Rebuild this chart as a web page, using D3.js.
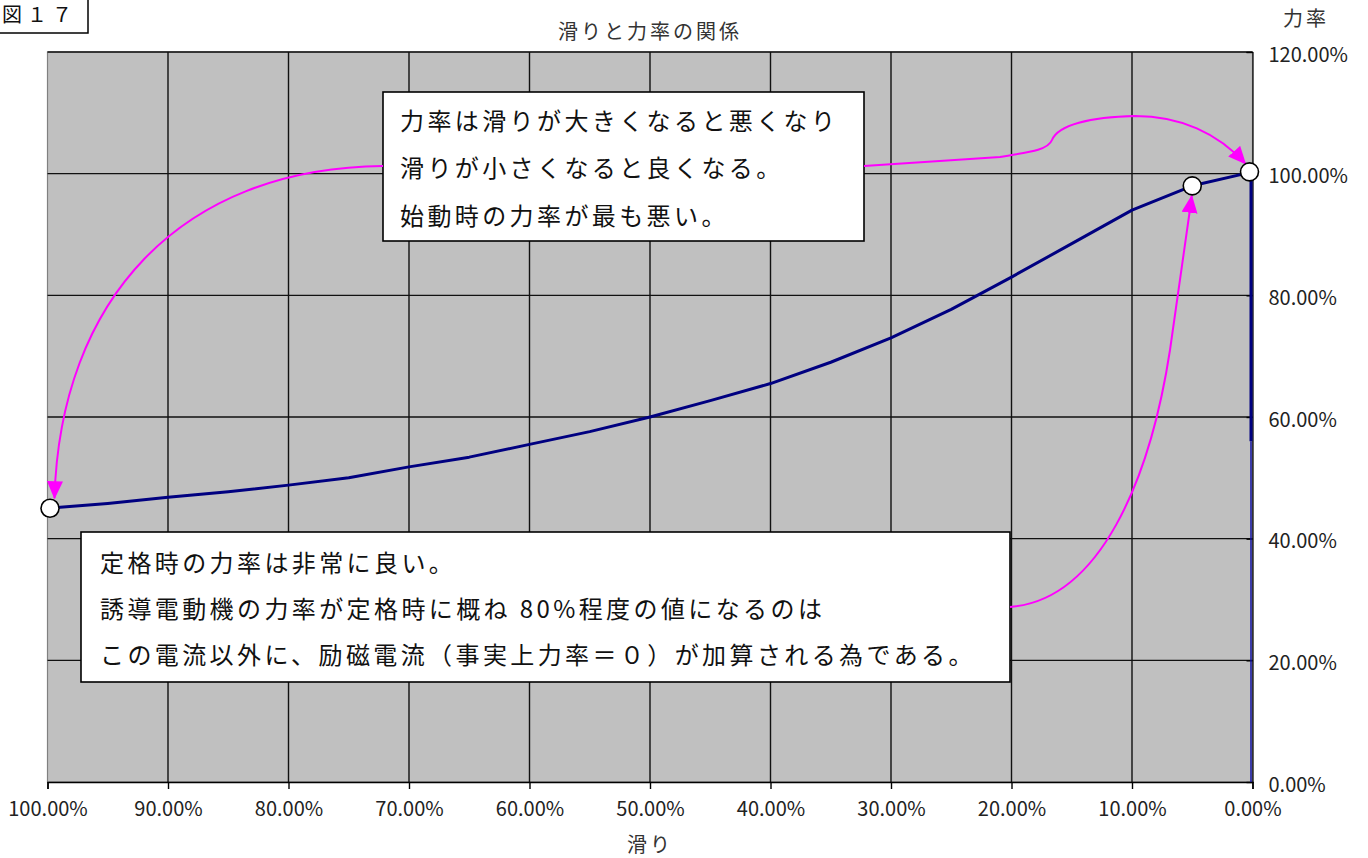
<!DOCTYPE html>
<html><head><meta charset="utf-8">
<script src="https://cdn.jsdelivr.net/npm/d3@7/dist/d3.min.js"></script>
<style>
html,body{margin:0;padding:0;background:#fff;}
text{font-family:"Noto Sans CJK JP","Noto Sans",sans-serif;}
</style></head>
<body>
<svg id="c" width="1368" height="858"></svg>
<script>
// ---- data ----
const slip = [1.00,0.95,0.90,0.85,0.80,0.75,0.70,0.65,0.60,0.55,0.50,0.45,0.40,0.35,0.30,0.25,0.20,0.15,0.10,0.05,0.00];
const powerFactor = [0.450,0.458,0.468,0.477,0.488,0.500,0.518,0.534,0.555,0.576,0.600,0.627,0.655,0.690,0.730,0.777,0.830,0.885,0.940,0.980,1.003];
const dropThick = [1.003,0.56];   // at slip 0
const dropThin = [0.56,0.0];      // at slip 0
const markerSlip = [1.00,0.05,0.00];
const markerPF = [0.450,0.980,1.003];
const xTicks = [1,0.9,0.8,0.7,0.6,0.5,0.4,0.3,0.2,0.1,0];
const yTicks = [0,0.2,0.4,0.6,0.8,1.0,1.2];
const title = "滑りと力率の関係";
const xTitle = "滑り";
const yTitle = "力率";
const figLabel = "図１７";
const note1 = ["力率は滑りが大きくなると悪くなり","滑りが小さくなると良くなる。","始動時の力率が最も悪い。"];
const note2 = ["定格時の力率は非常に良い。","誘導電動機の力率が定格時に概ね 80%程度の値になるのは","この電流以外に、励磁電流（事実上力率＝０）が加算される為である。"];

// ---- layout ----
const L=47.5, R=1252.5, T=52, B=782;
const svg = d3.select("#c");
const x = d3.scaleLinear().domain([1,0]).range([L,R]);
const y = d3.scaleLinear().domain([0,1.2]).range([B,T]);
const fmt = d3.format(".2%");

// plot area
svg.append("rect").attr("x",L).attr("y",T).attr("width",R-L).attr("height",B-T)
  .attr("fill","#c0c0c0").attr("stroke","#808080").attr("stroke-width",1.2);

// gridlines
svg.append("g").selectAll("line").data(xTicks.filter(d=>d>0&&d<1)).join("line")
  .attr("x1",d=>x(d)).attr("x2",d=>x(d)).attr("y1",T).attr("y2",B)
  .attr("stroke","#111").attr("stroke-width",1.4);
svg.append("g").selectAll("line").data(yTicks.filter(d=>d>0)).join("line")
  .attr("x1",L).attr("x2",R).attr("y1",d=>y(d)).attr("y2",d=>y(d))
  .attr("stroke","#111").attr("stroke-width",1.4);

// x axis
const xAxis = d3.axisBottom(x).tickValues(xTicks).tickFormat(fmt).tickSize(7).tickPadding(10);
const gx = svg.append("g").attr("transform",`translate(0,${B})`).call(xAxis);
gx.select(".domain").attr("stroke","#000").attr("stroke-width",1.4);
gx.selectAll(".tick line").attr("stroke","#000").attr("stroke-width",1.4);
gx.selectAll(".tick text").attr("font-size",20).attr("fill","#222")
  .attr("font-family","'Noto Sans CJK JP',sans-serif").attr("dy","0.85em");

// y axis (right)
const yAxis = d3.axisRight(y).tickValues(yTicks).tickFormat(fmt).tickSize(-6).tickPadding(16);
const gy = svg.append("g").attr("transform",`translate(${R},0)`).call(yAxis);
gy.select(".domain").attr("stroke","#000").attr("stroke-width",1.2);
gy.selectAll(".tick line").attr("stroke","#000").attr("stroke-width",1.4);
gy.selectAll(".tick text").attr("font-size",20).attr("fill","#222")
  .attr("font-family","'Noto Sans CJK JP',sans-serif").attr("dy","0.45em");

// titles
svg.append("text").attr("x",650).attr("y",39).attr("text-anchor","middle")
  .attr("font-size",20).attr("letter-spacing",3).attr("fill","#333").text(title);
svg.append("text").attr("x",650).attr("y",852).attr("text-anchor","middle")
  .attr("font-size",20).attr("letter-spacing",3).attr("fill","#333").text(xTitle);
svg.append("text").attr("x",1306).attr("y",26).attr("text-anchor","middle")
  .attr("font-size",20).attr("letter-spacing",3).attr("fill","#333").text(yTitle);

// figure label box
svg.append("rect").attr("x",-2).attr("y",-2).attr("width",90).attr("height",35)
  .attr("fill","#fff").attr("stroke","#000").attr("stroke-width",1.5);
svg.append("text").attr("x",2).attr("y",22).attr("font-size",20).attr("letter-spacing",5)
  .attr("fill","#111").text(figLabel);

// data line
const pts = slip.map((s,i)=>[s,powerFactor[i]]);
svg.append("path").datum(pts)
  .attr("d",d3.line().x(d=>x(d[0])).y(d=>y(d[1])))
  .attr("fill","none").attr("stroke","#000080").attr("stroke-width",3).attr("stroke-linejoin","round");
svg.append("line").attr("x1",x(0)-1.5).attr("x2",x(0)-1.5).attr("y1",y(dropThick[0])).attr("y2",y(dropThick[1]))
  .attr("stroke","#000080").attr("stroke-width",3);
svg.append("line").attr("x1",x(0)-1.5).attr("x2",x(0)-1.5).attr("y1",y(dropThin[0])).attr("y2",y(dropThin[1]))
  .attr("stroke","#1010a0").attr("stroke-width",1.5);

// arrow marker
const defs = svg.append("defs");
defs.append("marker").attr("id","arr").attr("viewBox","0 0 18 16")
  .attr("markerUnits","userSpaceOnUse").attr("markerWidth",18).attr("markerHeight",16)
  .attr("refX",17).attr("refY",8).attr("orient","auto")
  .append("path").attr("d","M0,0 L18,8 L0,16 Z").attr("fill","#ff00ff");

// annotation boxes
function box(x0,y0,w,h,lines,tx,ty,dy){
  svg.append("rect").attr("x",x0).attr("y",y0).attr("width",w).attr("height",h)
    .attr("fill","#fff").attr("stroke","#000").attr("stroke-width",1.6);
  lines.forEach((t,i)=>{
    svg.append("text").attr("x",tx).attr("y",ty+i*dy).attr("dy","0.36em")
      .attr("font-size",24).attr("letter-spacing",3.4).attr("fill","#111").text(t);
  });
}
box(383,92,481,149,note1,400,121,47.5);
box(81,532,929,150,note2,100,563,46);

// connectors
const conn = [
  `M383,166 C180,168 60,300 ${x(markerSlip[0])+7},${y(markerPF[0])-10}`,
  `M864,166 L1000,157 C1030,152 1048,150 1052,140 C1058,125 1090,117 1135,116 C1180,116 1218,133 ${x(markerSlip[2])-7},${y(markerPF[2])-8}`,
  `M1010,607 C1100,600 1150,480 1170,350 C1180,280 1186,240 ${x(markerSlip[1])-0.5},${y(markerPF[1])+10}`
];
svg.append("g").selectAll("path").data(conn).join("path").attr("d",d=>d)
  .attr("fill","none").attr("stroke","#ff00ff").attr("stroke-width",2).attr("marker-end","url(#arr)");

// markers
svg.append("g").selectAll("circle").data(markerSlip.map((s,i)=>[s,markerPF[i]])).join("circle")
  .attr("cx",d=>x(d[0])+(d[0]===1?2.5:(d[0]===0?-3:0))).attr("cy",d=>y(d[1]))
  .attr("r",9).attr("fill","#fff").attr("stroke","#000").attr("stroke-width",1.6);
</script>
</body></html>
